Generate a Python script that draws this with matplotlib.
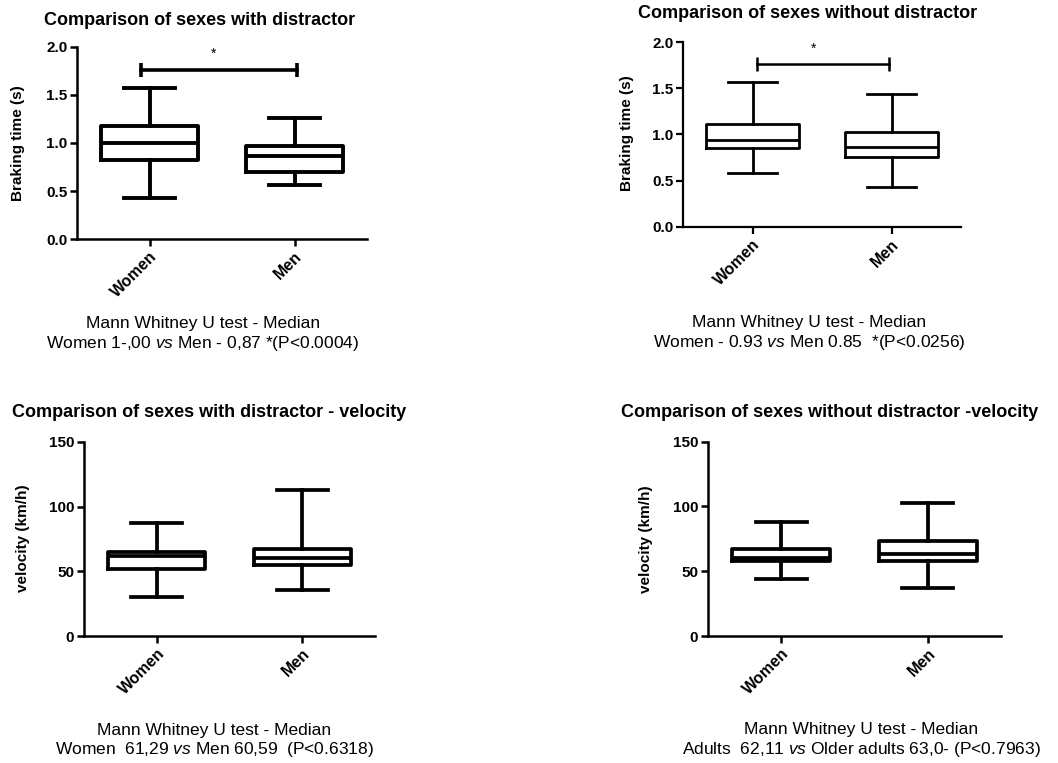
import numpy as np
import matplotlib
matplotlib.use("Agg")
import matplotlib.pyplot as plt

plt.rcParams["font.family"] = "Liberation Sans"
plt.rcParams["mathtext.fontset"] = "custom"
plt.rcParams["mathtext.rm"] = "Liberation Sans"
plt.rcParams["mathtext.it"] = "Liberation Sans:italic"

groups = ["Women", "Men"]

# five-number summaries: whislo, q1, med, q3, whishi
brake_dist_women = [0.43, 0.82, 1.00, 1.18, 1.57]
brake_dist_men = [0.56, 0.70, 0.865, 0.97, 1.26]
brake_nodist_women = [0.58, 0.85, 0.935, 1.115, 1.565]
brake_nodist_men = [0.435, 0.75, 0.86, 1.03, 1.435]
vel_dist_women = [30.5, 51.5, 61.5, 65.2, 87.6]
vel_dist_men = [35.2, 55.2, 60.0, 67.5, 113.2]
vel_nodist_women = [44.0, 57.7, 60.5, 67.4, 88.3]
vel_nodist_men = [36.9, 57.8, 63.3, 73.6, 102.6]

titles = ["Comparison of sexes with distractor",
          "Comparison of sexes without distractor",
          "Comparison of sexes with distractor - velocity",
          "Comparison of sexes without distractor -velocity"]
ylabels = ["Braking time (s)", "Braking time (s)", "velocity (km/h)", "velocity (km/h)"]
notes = [("Mann Whitney U test - Median", r"Women 1-,00 $\mathit{vs}$ Men - 0,87 *(P<0.0004)"),
         ("Mann Whitney U test - Median", r"Women - 0.93 $\mathit{vs}$ Men 0.85  *(P<0.0256)"),
         ("Mann Whitney U test - Median", r"Women  61,29 $\mathit{vs}$ Men 60,59  (P<0.6318)"),
         ("Mann Whitney U test - Median", r"Adults  62,11 $\mathit{vs}$ Older adults 63,0- (P<0.7963)")]
brake_ticks = [0.0, 0.5, 1.0, 1.5, 2.0]
vel_ticks = [0, 50, 100, 150]
sig_y = 1.76
star_y = 1.93

W, H = 1058, 763
fig = plt.figure(figsize=(W / 100, H / 100), dpi=100)


def px_rect(x0, x1, ytop, ybot):
    return [x0 / W, 1 - ybot / H, (x1 - x0) / W, (ybot - ytop) / H]


def stats(vals, lab):
    return dict(whislo=vals[0], q1=vals[1], med=vals[2], q3=vals[3], whishi=vals[4],
                fliers=[], label=lab)


def panel(rect, women, men, ticks, fmt, lw, spw):
    ax = fig.add_axes(rect)
    lp = dict(color="k", lw=lw)
    ax.bxp([stats(women, groups[0]), stats(men, groups[1])], positions=[0, 1],
           widths=0.67, capwidths=0.35, showfliers=False,
           boxprops=lp, whiskerprops=lp, capprops=lp, medianprops=lp)
    ax.set_xlim(-0.5, 1.5)
    ax.set_ylim(ticks[0], ticks[-1])
    ax.set_yticks(ticks)
    ax.set_yticklabels([fmt.format(t) for t in ticks], fontsize=11, fontweight="bold")
    ax.set_xticks([0, 1])
    ax.set_xticklabels(groups, rotation=45, ha="right", rotation_mode="anchor",
                       fontsize=11.5, fontweight="bold")
    for s in ["top", "right"]:
        ax.spines[s].set_visible(False)
    for s in ["left", "bottom"]:
        ax.spines[s].set_linewidth(spw)
    ax.tick_params(direction="out", length=5, width=spw, pad=2)
    ax.patch.set_alpha(0)
    return ax


ax1 = panel(px_rect(77, 367, 46.7, 239.3), brake_dist_women, brake_dist_men,
            brake_ticks, "{:.1f}", 2.8, 1.8)
ax2 = panel(px_rect(683, 961, 42, 226.7), brake_nodist_women, brake_nodist_men,
            brake_ticks, "{:.1f}", 2.0, 1.6)
ax3 = panel(px_rect(84, 375, 442, 636), vel_dist_women, vel_dist_men,
            vel_ticks, "{:d}", 2.7, 1.8)
ax4 = panel(px_rect(708, 1001, 441.7, 636), vel_nodist_women, vel_nodist_men,
            vel_ticks, "{:d}", 2.7, 1.8)

# significance bars
for ax, lw, x0, x1 in [(ax1, 2.6, -0.06, 1.02), (ax2, 1.8, 0.03, 0.98)]:
    ax.plot([x0, x1], [sig_y, sig_y], color="k", lw=lw, marker="|", ms=10, mew=lw,
            clip_on=False)
    ax.text(0.44, star_y, "*", ha="center", va="center", fontsize=10, clip_on=False)

# titles, y labels, notes in pixel positions
title_pos = [(200, 25), (808, 18), (209, 417), (830, 417)]
ylab_pos = [(18, 143), (627, 133), (23, 538), (646, 539)]
note_x = [203, 809, 214, 861]
note_y = [(328, 348), (327, 347), (735, 754), (734, 754)]

for i in range(4):
    tx, ty = title_pos[i]
    fig.text(tx / W, 1 - ty / H, titles[i], ha="center", va="baseline",
             fontsize=13, fontweight="bold")
    lx, ly = ylab_pos[i]
    fig.text(lx / W, 1 - ly / H, ylabels[i], ha="center", va="center",
             rotation=90, fontsize=11, fontweight="bold")
    for line, y in zip(notes[i], note_y[i]):
        fig.text(note_x[i] / W, 1 - y / H, line, ha="center", va="baseline",
                 fontsize=12.5)

fig.savefig("out.png", dpi=100)
